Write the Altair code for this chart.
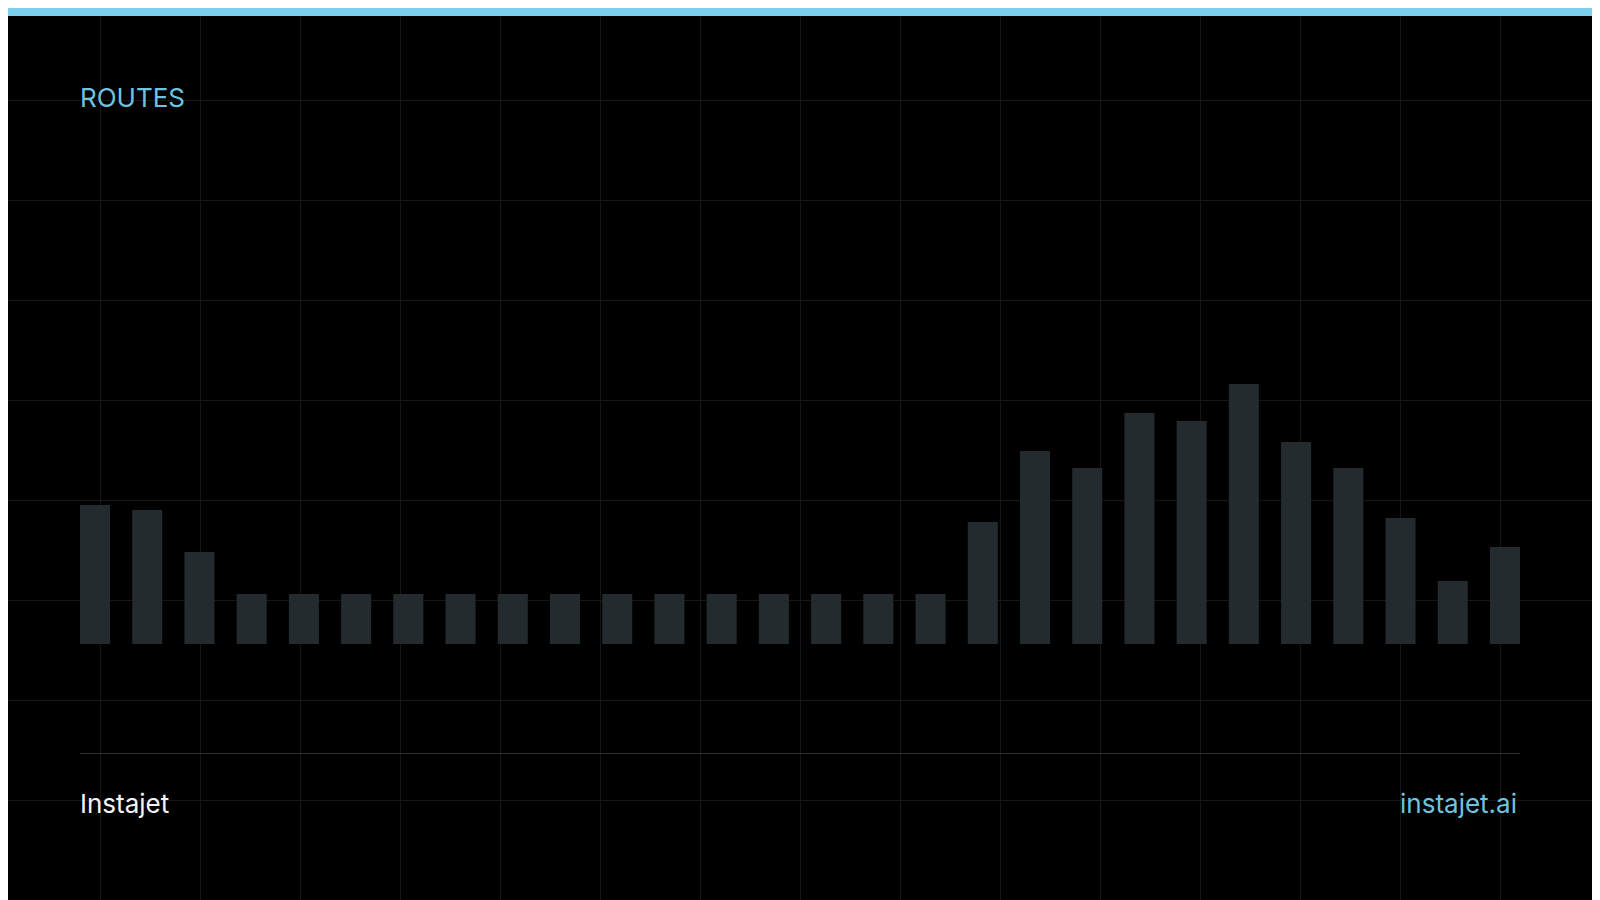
import altair as alt
import pandas as pd

# ---- data ----
route_ids = [f"R{i:02d}" for i in range(1, 29)]
route_values = [139, 134, 92, 50, 50, 50, 50, 50, 50, 50, 50, 50, 50, 50,
                50, 50, 50, 122, 193, 176, 231, 223, 260, 202, 176, 126, 63, 97]
title_text = ["ROUTES"]
brand_text = ["Instajet"]
site_text = ["instajet.ai"]
grid_x_ticks = [100, 200, 300, 400, 500, 600, 700, 800, 900, 1000, 1100, 1200, 1300, 1400, 1500]
grid_y_ticks = [100, 200, 300, 400, 500, 600, 700, 800]

bars_df = pd.DataFrame({"route": route_ids, "value": route_values})

W, H = 1584, 892
BG = "#000000"
BAR = "#242b2e"
GRID = "#161616"
ACCENT = "#6ec3df"
TOPBAR = "#7dd0ea"

# background grid drawn by axes of an invisible layer (page coordinates)
grid = alt.Chart(pd.DataFrame({"gx": [800], "gy": [450]})).mark_point(opacity=0).encode(
    x=alt.X("gx:Q", scale=alt.Scale(domain=[8, 8 + W], nice=False, zero=False),
            axis=alt.Axis(values=grid_x_ticks, grid=True, labels=False, ticks=False,
                          domain=False, title=None, gridColor=GRID, gridWidth=1)),
    y=alt.Y("gy:Q", scale=alt.Scale(domain=[8, 8 + H], nice=False, zero=False, reverse=True),
            axis=alt.Axis(values=grid_y_ticks, grid=True, labels=False, ticks=False,
                          domain=False, title=None, gridColor=GRID, gridWidth=1)),
)

bars = alt.Chart(bars_df).mark_bar(color=BAR).encode(
    x=alt.X("route:N", sort=route_ids,
            scale=alt.Scale(range=[72, 1512], paddingInner=0.425, paddingOuter=0),
            axis=None),
    y=alt.Y("value:Q", scale=alt.Scale(domain=[0, 636], range=[636, 0], nice=False),
            axis=None),
)

title = alt.Chart(pd.DataFrame({"t": title_text})).mark_text(
    align="left", baseline="alphabetic", font="Inter", fontSize=26, color=ACCENT
).encode(x=alt.value(72), y=alt.value(98.5), text="t:N")

separator = alt.Chart(pd.DataFrame({"t": brand_text})).mark_rule(
    color="#2a2f31", strokeWidth=1
).encode(x=alt.value(72), x2=alt.value(1512), y=alt.value(745.5))

brand = alt.Chart(pd.DataFrame({"t": brand_text})).mark_text(
    align="left", baseline="alphabetic", font="Inter", fontSize=26, color="#f4f4f4"
).encode(x=alt.value(72), y=alt.value(805), text="t:N")

site = alt.Chart(pd.DataFrame({"t": site_text})).mark_text(
    align="right", baseline="alphabetic", font="Inter", fontSize=26, color=ACCENT
).encode(x=alt.value(1509), y=alt.value(805), text="t:N")

topbar = alt.Chart(pd.DataFrame({"t": title_text})).mark_rect(color=TOPBAR).encode(
    x=alt.value(0), x2=alt.value(W), y=alt.value(0), y2=alt.value(8)
)

chart = alt.layer(grid, bars, separator, title, brand, site, topbar).resolve_scale(
    x="independent", y="independent"
).properties(
    width=W, height=H, padding=0, background=BG,
    autosize=alt.AutoSizeParams(type="none"),
).configure_view(stroke=None)

chart.save("out.html", embed_options={"renderer": "svg", "actions": False})
